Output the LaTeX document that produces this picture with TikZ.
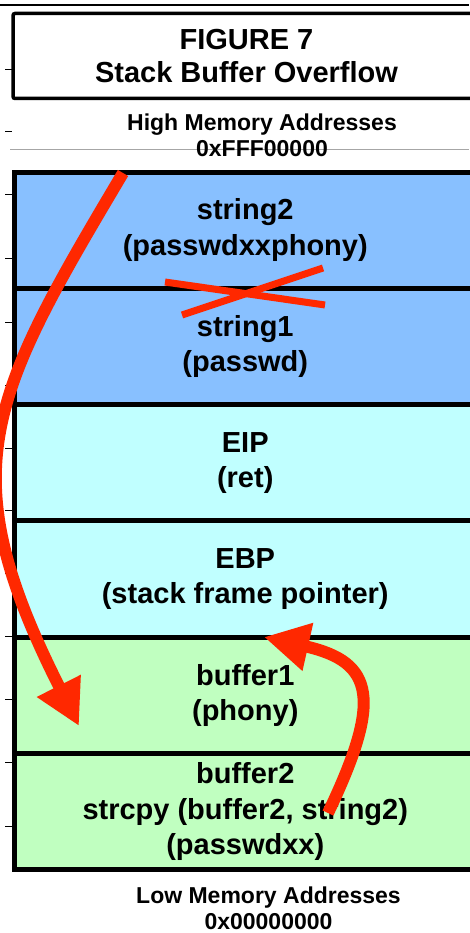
\documentclass[tikz,border=0pt]{standalone}
\usepackage{fontspec}
\setmainfont{Liberation Sans}
\usetikzlibrary{arrows.meta}
\definecolor{stackblue}{RGB}{136,192,255}
\definecolor{stackcyan}{RGB}{192,255,255}
\definecolor{stackgreen}{RGB}{192,255,192}
\definecolor{arrowred}{RGB}{255,40,0}
\begin{document}
\begin{tikzpicture}[x=1pt,y=-1pt,
  cell/.style={draw=black,line width=5pt,minimum width=461.5pt,minimum height=116.3pt,inner sep=0pt,align=center,font=\bfseries\fontsize{29}{35.5}\selectfont},
  memtext/.style={align=center,font=\bfseries\fontsize{23}{26}\selectfont},
  ticklen/.style={line width=1pt},
  bigarrow/.style={arrowred,line width=12pt,-{Triangle[length=45pt,width=46pt]}},
  crossline/.style={arrowred,line width=7pt}]
\useasboundingbox (0,0) rectangle (469,933);
% top rule and grey rule
\draw[line width=1.2pt] (0,5) -- (469,5);
\draw[black!35,line width=1pt] (10,150) -- (469,150);
% title box
\node[draw=black,line width=3.5pt,rounded corners=2pt,minimum width=467pt,minimum height=85pt,align=center,font=\bfseries\fontsize{29}{33}\selectfont] (title) at (246.5,56) {FIGURE 7\\Stack Buffer Overflow};
% memory labels
\node[memtext] (high) at (262,135) {High Memory Addresses\\0xFFF00000};
\node[memtext] (low) at (268.5,908.5) {Low Memory Addresses\\0x00000000};
% ticks
\foreach \ty in {70,132,195,258,322,385,448,510,573,636,699,762,826}
  \draw[ticklen] (5,\ty) -- (12,\ty);
% stack sections
\node[cell,fill=stackblue] (s2) at (245.25,230.2) {string2\\(passwdxxphony)};
\node[cell,fill=stackblue] (s1) at (245.25,346.5) {string1\\(passwd)};
\node[cell,fill=stackcyan] (eip) at (245.25,462.8) {EIP\\(ret)};
\node[cell,fill=stackcyan] (ebp) at (245.25,579.1) {EBP\\(stack frame pointer)};
\node[cell,fill=stackgreen] (b1) at (245.25,695.4) {buffer1\\(phony)};
\node[cell,fill=stackgreen] (b2) at (245.25,811.7) {buffer2\\strcpy (buffer2, string2)\\(passwdxx)};
% cross over string1/string2 boundary
\coordinate (c1a) at (165,282);
\coordinate (c1b) at (325,305);
\coordinate (c2a) at (182,315);
\coordinate (c2b) at (323,268);
\draw[crossline] (c1a) -- (c1b);
\draw[crossline] (c2a) -- (c2b);
% arrows
\coordinate (a1s) at (123,173);
\coordinate (a1e) at (79,726);
\coordinate (a2s) at (328,813);
\coordinate (a2e) at (264,637);
\draw[bigarrow] (a1s) .. controls (-12,400) and (-50,470) .. (a1e);
\draw[bigarrow] (a2s) .. controls (382,700) and (375,662) .. (a2e);
\end{tikzpicture}
\end{document}
